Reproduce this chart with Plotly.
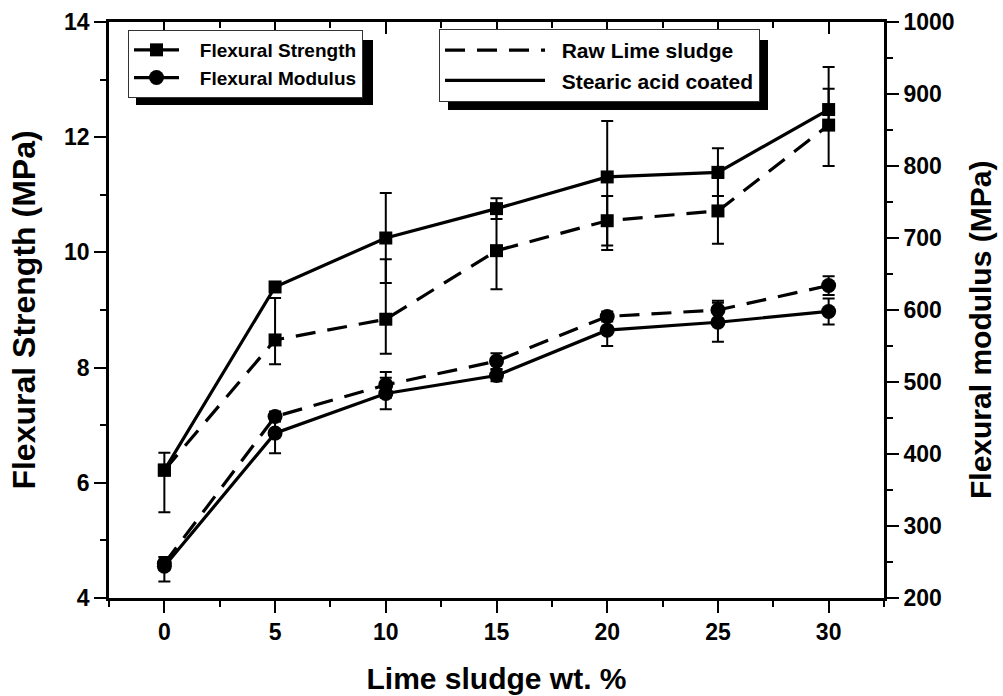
import plotly.graph_objects as go

# ---------------- data ----------------
lime_wt = [0, 5, 10, 15, 20, 25, 30]

strength_raw = [6.22, 8.48, 8.84, 10.03, 10.55, 10.72, 12.21]
strength_raw_err_plus = [0.30, 0.73, 1.04, 0.67, 0.43, 0.57, 0.63]
strength_raw_err_minus = [0.73, 0.42, 0.60, 0.67, 0.43, 0.57, 0.71]

strength_coated = [6.22, 9.40, 10.25, 10.76, 11.31, 11.39, 12.48]
strength_coated_err_plus = [0.0, 0.0, 0.78, 0.18, 0.97, 0.42, 0.74]
strength_coated_err_minus = [0.0, 0.0, 0.78, 0.18, 1.27, 0.41, 0.30]

modulus_raw = [248, 452, 496, 529, 591, 600, 634]
modulus_raw_err = [9, 7, 18, 11, 7, 13, 13]

modulus_coated = [244, 429, 484, 509, 572, 583, 598]
modulus_coated_err_plus = [8, 28, 22, 8, 22, 27, 18]
modulus_coated_err_minus = [21, 28, 22, 8, 22, 27, 18]

x_ticks = [0, 5, 10, 15, 20, 25, 30]
y1_ticks = [4, 6, 8, 10, 12, 14]
y2_ticks = [200, 300, 400, 500, 600, 700, 800, 900, 1000]

legend1_names = ["Flexural Strength", "Flexural Modulus"]
legend2_names = ["Raw Lime sludge", "Stearic acid coated"]

# ---------------- style ----------------
FONT = "Liberation Sans, Arial, sans-serif"
BLACK = "#000000"
LW = 3.2
DASH = "20px,12px"
MSIZE = 13
NB = "\u00a0"

# plot area in pixels
W, H = 1003, 696
L, R, T, B = 109, 119, 22, 98
PW, PH = W - L - R, H - T - B


def px_x(px):
    return (px - L) / PW


def px_y(py):
    return (H - B - py) / PH


def err(plus, minus):
    return dict(type="data", symmetric=False, array=plus, arrayminus=minus,
                color=BLACK, thickness=2, width=6)


fig = go.Figure()

# strength traces (left axis)
fig.add_trace(go.Scatter(
    x=lime_wt, y=strength_raw, mode="lines+markers", yaxis="y", showlegend=False,
    line=dict(color=BLACK, width=LW, dash=DASH),
    marker=dict(symbol="square", size=MSIZE, color=BLACK),
    error_y=err(strength_raw_err_plus, strength_raw_err_minus)))
fig.add_trace(go.Scatter(
    x=lime_wt, y=strength_coated, mode="lines+markers", yaxis="y", showlegend=False,
    line=dict(color=BLACK, width=LW),
    marker=dict(symbol="square", size=MSIZE, color=BLACK),
    error_y=err(strength_coated_err_plus, strength_coated_err_minus)))

# modulus traces (right axis)
fig.add_trace(go.Scatter(
    x=lime_wt, y=modulus_raw, mode="lines+markers", yaxis="y2", showlegend=False,
    line=dict(color=BLACK, width=LW, dash=DASH),
    marker=dict(symbol="circle", size=MSIZE + 2, color=BLACK),
    error_y=err(modulus_raw_err, modulus_raw_err)))
fig.add_trace(go.Scatter(
    x=lime_wt, y=modulus_coated, mode="lines+markers", yaxis="y2", showlegend=False,
    line=dict(color=BLACK, width=LW),
    marker=dict(symbol="circle", size=MSIZE + 2, color=BLACK),
    error_y=err(modulus_coated_err_plus, modulus_coated_err_minus)))

# dummy trace to draw top mirror axis
fig.add_trace(go.Scatter(x=[None], y=[None], xaxis="x2", yaxis="y",
                         showlegend=False, hoverinfo="skip"))

# legend entries
fig.add_trace(go.Scatter(x=[None], y=[None], mode="lines+markers", name=NB * 3 + legend1_names[0],
                         line=dict(color=BLACK, width=LW),
                         marker=dict(symbol="square", size=MSIZE, color=BLACK),
                         legend="legend"))
fig.add_trace(go.Scatter(x=[None], y=[None], mode="lines+markers", name=NB * 3 + legend1_names[1],
                         line=dict(color=BLACK, width=LW),
                         marker=dict(symbol="circle", size=MSIZE + 2, color=BLACK),
                         legend="legend"))
fig.add_trace(go.Scatter(x=[None], y=[None], mode="lines", name=NB * 2 + legend2_names[0],
                         line=dict(color=BLACK, width=LW, dash=DASH),
                         legend="legend2"))
fig.add_trace(go.Scatter(x=[None], y=[None], mode="lines", name=NB * 2 + legend2_names[1],
                         line=dict(color=BLACK, width=LW),
                         legend="legend2"))

tickfont = dict(family=FONT, size=23, color=BLACK, weight="bold")
titlefont = dict(family=FONT, size=30, color=BLACK, weight="bold")

axis_common = dict(showline=True, linecolor=BLACK, linewidth=2.6, showgrid=False,
                   zeroline=False, ticks="outside", ticklen=12, tickwidth=2.4,
                   tickcolor=BLACK, tickfont=tickfont, automargin=False)

fig.update_layout(
    width=W, height=H,
    margin=dict(l=L, r=R, t=T, b=B, autoexpand=False),
    paper_bgcolor="white", plot_bgcolor="white",
    xaxis=dict(**axis_common, range=[-2.5, 32.5], tickvals=x_ticks,
               ticktext=[str(v) for v in x_ticks],
               minor=dict(ticks="outside", ticklen=6, tickwidth=2.4, tickcolor=BLACK, dtick=2.5, tick0=0),
               title=dict(text="Lime sludge wt. %", font=titlefont, standoff=24)),
    xaxis2=dict(overlaying="x", side="top", range=[-2.5, 32.5], showline=True,
                linecolor=BLACK, linewidth=2.6, showgrid=False, zeroline=False,
                ticks="inside", ticklen=12, tickwidth=2.4, tickcolor=BLACK,
                tickvals=x_ticks, showticklabels=False, automargin=False,
                minor=dict(ticks="inside", ticklen=6, tickwidth=2.4, tickcolor=BLACK, dtick=2.5, tick0=0)),
    yaxis=dict(**axis_common, range=[4, 14], tickvals=y1_ticks,
               ticktext=[str(v) for v in y1_ticks],
               minor=dict(ticks="outside", ticklen=6, tickwidth=2.4, tickcolor=BLACK, dtick=1, tick0=4),
               title=dict(text="Flexural Strength (MPa)", font=dict(titlefont, size=32), standoff=19)),
    yaxis2=dict(**axis_common, overlaying="y", side="right", range=[200, 1000],
                tickvals=y2_ticks, ticktext=[str(v) for v in y2_ticks],
                minor=dict(ticks="outside", ticklen=6, tickwidth=2.4, tickcolor=BLACK, dtick=50, tick0=200)),
    annotations=[
        dict(text="Flexural modulus (MPa)", xref="paper", yref="paper",
             x=px_x(980), y=px_y(330), xanchor="center", yanchor="middle",
             textangle=-90, showarrow=False, font=titlefont),
    ],
    legend=dict(x=px_x(128), y=px_y(30), xanchor="left", yanchor="top",
                bgcolor="white", bordercolor="#333333", borderwidth=1,
                font=dict(family=FONT, size=19, color=BLACK, weight="bold"),
                itemwidth=45, tracegroupgap=0),
    legend2=dict(x=px_x(439), y=px_y(29), xanchor="left", yanchor="top",
                 bgcolor="white", bordercolor="#333333", borderwidth=1,
                 font=dict(family=FONT, size=21, color=BLACK, weight="bold"),
                 itemwidth=100, tracegroupgap=0),
    shapes=[
        dict(type="rect", xref="paper", yref="paper", layer="above",
             x0=px_x(136), x1=px_x(373), y0=px_y(105), y1=px_y(40),
             fillcolor=BLACK, line=dict(width=0)),
        dict(type="rect", xref="paper", yref="paper", layer="above",
             x0=px_x(448), x1=px_x(768), y0=px_y(110), y1=px_y(40),
             fillcolor=BLACK, line=dict(width=0)),
    ],
    showlegend=True,
)

fig.write_html("out.html")
